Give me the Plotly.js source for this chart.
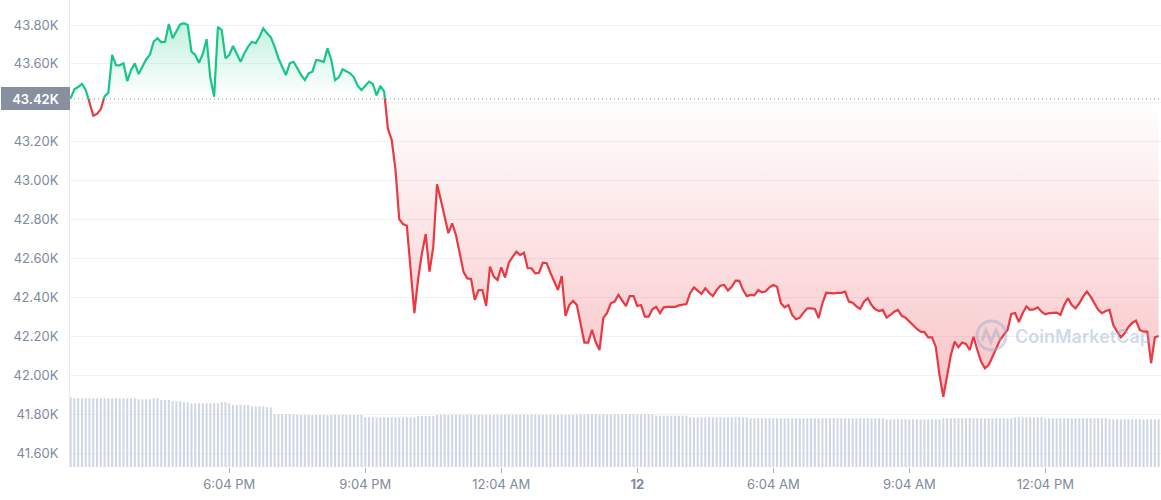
<!DOCTYPE html>
<html>
<head>
<meta charset="utf-8">
<script src="https://cdn.plot.ly/plotly-3.0.1.min.js"></script>
<style>
  html, body { margin: 0; padding: 0; background: #ffffff; }
  #chart { width: 1161px; height: 500px; }
</style>
</head>
<body>
<div id="chart"></div>
<script>
// ---------- DATA ----------
const openPrice = 43420;                 // reference (open) price, USD
const startTime = '2024-01-11T14:34:00Z'; // first 5-minute sample
const stepMinutes = 5;

// BTC price, USD, every 5 minutes
const prices = [
43423,43470,43481,43497,43466,43404,43334,43343,43368,43433,
43452,43646,43594,43593,43603,43512,43569,43603,43548,43582,
43623,43648,43715,43732,43711,43714,43805,43732,43764,43803,
43809,43800,43663,43646,43606,43651,43727,43526,43432,43791,
43774,43629,43646,43692,43651,43611,43655,43689,43714,43706,
43740,43783,43757,43737,43689,43629,43586,43543,43603,43611,
43579,43543,43517,43552,43560,43620,43617,43611,43680,43620,
43517,43531,43572,43560,43552,43531,43487,43466,43487,43509,
43497,43438,43487,43457,43266,43209,43055,42802,42777,42769,
42541,42319,42498,42627,42726,42532,42661,42981,42901,42807,
42730,42781,42721,42627,42532,42498,42495,42387,42438,42438,
42356,42558,42507,42490,42555,42502,42579,42608,42635,42618,
42630,42550,42550,42524,42527,42579,42576,42527,42481,42438,
42510,42305,42361,42382,42361,42258,42168,42168,42233,42171,
42130,42294,42320,42370,42379,42413,42387,42356,42407,42407,
42356,42361,42301,42301,42339,42352,42319,42349,42352,42352,
42352,42359,42364,42366,42423,42452,42435,42418,42447,42424,
42407,42438,42460,42464,42435,42455,42486,42485,42438,42407,
42413,42411,42438,42426,42432,42452,42464,42455,42370,42349,
42361,42310,42288,42296,42322,42344,42344,42341,42294,42370,
42424,42421,42421,42424,42424,42430,42379,42373,42354,42341,
42378,42396,42361,42339,42330,42336,42296,42310,42327,42336,
42305,42296,42275,42258,42238,42224,42222,42195,42195,42147,
42001,41890,41993,42104,42173,42144,42168,42161,42130,42198,
42130,42070,42036,42053,42094,42140,42181,42207,42233,42315,
42320,42274,42319,42354,42336,42339,42349,42327,42313,42319,
42322,42322,42310,42361,42396,42361,42344,42370,42404,42430,
42404,42366,42336,42319,42330,42336,42258,42224,42195,42216,
42248,42269,42281,42233,42224,42224,42062,42195,42202
];

// 24h volume, billions USD, per 5-minute sample
const volumes = [
29.85,29.42,29.42,29.42,29.42,29.42,29.42,29.42,29.42,29.42,
29.42,29.42,29.42,29.42,29.42,29.42,29.42,29.42,28.99,28.99,
28.99,28.99,29.42,29.42,28.69,28.69,28.69,28.14,28.14,28.14,
27.71,27.71,27.28,27.28,27.28,27.28,27.28,27.28,27.28,27.28,
27.71,27.71,27.28,26.55,26.55,26.55,26.55,26.55,26.00,26.00,
26.00,26.00,25.57,25.57,22.57,22.57,22.57,22.57,22.57,22.57,
22.27,22.27,22.27,22.27,22.27,22.27,22.27,22.27,22.27,22.27,
22.27,22.27,22.27,22.27,22.27,22.27,22.27,22.27,21.28,21.28,
21.28,21.28,21.28,21.28,21.28,21.28,21.28,21.28,21.28,21.28,
21.28,21.28,21.84,21.84,21.84,21.84,21.84,22.40,22.40,22.40,
22.40,22.40,22.40,22.40,22.40,22.40,22.40,22.40,22.40,22.40,
22.40,22.40,22.40,22.40,22.40,22.40,22.40,22.40,22.40,22.40,
22.40,22.40,22.40,22.40,22.40,22.40,22.40,22.40,22.40,22.40,
22.40,22.40,22.40,22.40,22.40,22.57,22.57,22.57,22.57,22.57,
22.57,22.57,22.57,22.57,22.57,22.57,22.57,22.57,22.57,22.57,
22.57,22.57,22.57,22.57,22.57,21.97,21.97,21.97,21.97,21.97,
21.97,21.97,21.97,21.97,21.28,21.28,21.28,21.28,21.28,21.28,
21.28,21.28,21.28,21.28,21.28,21.28,21.28,21.28,21.28,21.28,
20.86,20.86,20.86,20.86,20.86,20.86,20.86,20.86,20.86,20.86,
20.86,20.86,20.86,20.86,20.86,20.86,20.86,20.86,20.86,20.86,
20.86,20.86,20.86,20.86,20.86,20.86,20.86,20.86,20.86,20.86,
20.86,20.86,20.86,20.86,20.86,20.86,20.43,20.43,20.43,20.43,
20.43,20.43,20.43,20.43,20.43,20.43,20.43,20.43,20.43,20.43,
20.43,20.86,20.86,20.86,20.86,20.86,20.86,20.86,20.86,20.86,
20.86,20.86,20.86,20.86,20.86,20.86,20.86,20.86,20.86,20.86,
21.28,21.28,21.28,21.28,21.28,21.28,21.28,21.28,20.86,20.86,
20.86,20.86,20.86,20.86,20.86,20.86,20.86,20.86,20.86,20.86,
20.86,20.86,20.86,20.86,20.86,20.43,20.43,20.43,20.43,20.43,
20.43,20.43,20.43,20.43,20.43,20.43,20.43,20.43,20.43
];

const xTickTimes  = ['2024-01-11 18:04','2024-01-11 21:04','2024-01-12 00:04','2024-01-12 03:04','2024-01-12 06:04','2024-01-12 09:04','2024-01-12 12:04'];
const xTickLabels = ['6:04 PM','9:04 PM','12:04 AM','<b>12</b>','6:04 AM','9:04 AM','12:04 PM'];
const yTickValues = [41600,41800,42000,42200,42400,42600,42800,43000,43200,43400,43600,43800];
const yTickLabels = ['41.60K','41.80K','42.00K','42.20K','42.40K','42.60K','42.80K','43.00K','43.20K','','43.60K','43.80K'];
const openLabel = '43.42K';

// ---------- BUILD ----------
function fmt(ms) { return new Date(ms).toISOString().slice(0, 23).replace('T', ' '); }
const t0 = Date.parse(startTime);
const tms = prices.map((_, i) => t0 + i * stepMinutes * 60000);
const times = tms.map(fmt);

const fX = [], fUp = [], fDn = [], fBase = [];
const gX = [], gY = [], rX = [], rY = [];
for (let i = 0; i < prices.length; i++) {
  const p = prices[i];
  if (i > 0) {
    const p0 = prices[i - 1];
    if ((p0 - openPrice) * (p - openPrice) < 0) {
      const f = (openPrice - p0) / (p - p0);
      const tc = fmt(tms[i - 1] + f * (tms[i] - tms[i - 1]));
      fX.push(tc); fUp.push(openPrice); fDn.push(openPrice); fBase.push(openPrice);
      gX.push(tc); gY.push(openPrice);
      rX.push(tc); rY.push(openPrice);
    }
  }
  fX.push(times[i]);
  fUp.push(Math.max(p, openPrice));
  fDn.push(Math.min(p, openPrice));
  fBase.push(openPrice);
  gX.push(times[i]); rX.push(times[i]);
  if (p >= openPrice) { gY.push(p); rY.push(null); }
  else { gY.push(null); rY.push(p); }
}

const GREEN = '#16c784', RED = '#ea3943';
const maxP = Math.max(...prices), minP = Math.min(...prices);

const traces = [
  { type: 'bar', x: times, y: volumes, yaxis: 'y2',
    marker: { color: '#cfd6e4', line: { width: 0 } }, hoverinfo: 'skip' },
  { type: 'scatter', mode: 'lines', x: fX, y: fBase, line: { width: 0 }, hoverinfo: 'skip' },
  { type: 'scatter', mode: 'lines', x: fX, y: fUp, line: { width: 0 }, fill: 'tonexty',
    fillcolor: 'rgba(22,199,132,0.15)',
    fillgradient: { type: 'vertical', start: openPrice, stop: maxP,
      colorscale: [[0, 'rgba(22,199,132,0.0)'], [1, 'rgba(22,199,132,0.26)']] },
    hoverinfo: 'skip' },
  { type: 'scatter', mode: 'lines', x: fX, y: fBase, line: { width: 0 }, hoverinfo: 'skip' },
  { type: 'scatter', mode: 'lines', x: fX, y: fDn, line: { width: 0 }, fill: 'tonexty',
    fillcolor: 'rgba(234,57,67,0.15)',
    fillgradient: { type: 'vertical', start: minP, stop: openPrice,
      colorscale: [[0, 'rgba(234,57,67,0.30)'], [1, 'rgba(234,57,67,0.0)']] },
    hoverinfo: 'skip' },
  { type: 'scatter', mode: 'lines', x: rX, y: rY, connectgaps: false,
    line: { color: RED, width: 2.2, shape: 'linear' } },
  { type: 'scatter', mode: 'lines', x: gX, y: gY, connectgaps: false,
    line: { color: GREEN, width: 2.2, shape: 'linear' } }
];

const px = (x) => (x - 70) / 1091;   // watermark placement helpers (paper units)
const py = (y) => 1 - y / 467;

const layout = {
  width: 1161, height: 500,
  margin: { l: 70, r: 0, t: 0, b: 33, pad: 0 },
  paper_bgcolor: '#ffffff', plot_bgcolor: '#ffffff',
  showlegend: false,
  bargap: 0.45,
  font: { family: 'Inter, "Noto Sans", sans-serif', size: 13, color: '#808a9d' },
  xaxis: {
    type: 'date',
    range: ['2024-01-11 14:33:13', '2024-01-12 14:37:07'],
    tickmode: 'array', tickvals: xTickTimes, ticktext: xTickLabels,
    ticks: 'outside', ticklen: 5, tickwidth: 1, tickcolor: '#a6b0c3',
    showgrid: false, zeroline: false, showline: false,
    tickfont: { family: 'Inter, sans-serif', size: 13, color: '#808a9d' }
  },
  yaxis: {
    range: [41528.7, 43928.5],
    tickmode: 'array', tickvals: yTickValues, ticktext: yTickLabels,
    showgrid: true, gridcolor: '#eff2f5', gridwidth: 1,
    zeroline: false, showline: true, linecolor: '#e8ebf1', linewidth: 1,
    ticks: 'outside', ticklen: 8, tickcolor: 'rgba(0,0,0,0)',
    tickfont: { family: 'Inter, sans-serif', size: 13, color: '#808a9d' }
  },
  yaxis2: { overlaying: 'y', range: [0, 200], visible: false, showgrid: false, zeroline: false },
  shapes: [
    { type: 'line', xref: 'paper', x0: 0, x1: 1, yref: 'y', y0: openPrice, y1: openPrice,
      line: { color: '#8d96a8', width: 1, dash: '1px,3px' }, layer: 'above' },
    { type: 'circle', xref: 'paper', yref: 'paper',
      x0: px(977), x1: px(1006), y0: py(350), y1: py(321),
      line: { color: 'rgba(150,170,205,0.45)', width: 3 } },
    { type: 'path', xref: 'paper', yref: 'paper',
      path: `M ${px(982)} ${py(341)} L ${px(986)} ${py(330)} L ${px(991)} ${py(342)} L ${px(996)} ${py(330)} L ${px(1001)} ${py(341)}`,
      line: { color: 'rgba(150,170,205,0.45)', width: 3 } }
  ],
  annotations: [
    { xref: 'paper', x: 0, xanchor: 'right', yref: 'y', y: openPrice, yanchor: 'middle',
      text: openLabel, showarrow: false, bgcolor: '#878fa0', borderwidth: 0,
      width: 65, height: 19, borderpad: 2, align: 'center',
      font: { family: 'Inter, sans-serif', size: 13, color: '#ffffff', weight: 600 } },
    { xref: 'paper', yref: 'paper', x: px(1083), y: py(336), xanchor: 'center', yanchor: 'middle',
      text: 'CoinMarketCap', showarrow: false,
      font: { family: 'Inter, sans-serif', size: 18, color: 'rgba(150,170,205,0.45)', weight: 600 } }
  ]
};

Plotly.newPlot('chart', traces, layout, { displayModeBar: false, staticPlot: true });
</script>
</body>
</html>
